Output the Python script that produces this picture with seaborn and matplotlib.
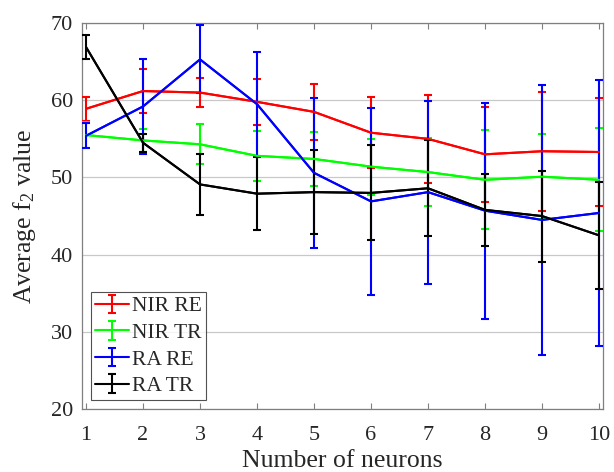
import numpy as np
import pandas as pd
import seaborn as sns
import matplotlib
matplotlib.use("Agg")
import matplotlib.pyplot as plt
from matplotlib.legend_handler import HandlerErrorbar
from matplotlib.container import ErrorbarContainer

neurons = [1, 2, 3, 4, 5, 6, 7, 8, 9, 10]

nir_re = [58.9, 61.2, 61.0, 59.8, 58.5, 55.8, 55.0, 53.0, 53.4, 53.3]
nir_re_err = [1.55, 2.8, 1.9, 3.0, 3.6, 4.6, 5.75, 6.15, 7.7, 6.95]

nir_tr = [55.5, 54.8, 54.3, 52.8, 52.4, 51.4, 50.7, 49.7, 50.1, 49.7]
nir_tr_err = [1.65, 1.45, 2.6, 3.2, 3.5, 3.65, 4.4, 6.4, 5.5, 6.7]

ra_re = [55.4, 59.2, 65.3, 59.5, 50.6, 46.9, 48.1, 45.7, 44.5, 45.4]
ra_re_err = [1.6, 6.15, 4.4, 6.7, 9.7, 12.1, 11.85, 14.0, 17.5, 17.2]

ra_tr = [66.9, 54.5, 49.1, 47.9, 48.1, 48.0, 48.6, 45.8, 45.0, 42.5]
ra_tr_err = [1.55, 1.15, 3.95, 4.7, 5.45, 6.15, 6.2, 4.65, 5.9, 6.95]

series = ["NIR RE", "NIR TR", "RA RE", "RA TR"]
colors = ["#ff0000", "#00ff00", "#0000ff", "#000000"]

df = pd.concat([
    pd.DataFrame({"neurons": neurons, "value": m, "err": e, "series": s})
    for s, m, e in zip(series, [nir_re, nir_tr, ra_re, ra_tr],
                       [nir_re_err, nir_tr_err, ra_re_err, ra_tr_err])
], ignore_index=True)

sns.set_style("ticks")
plt.rcParams["font.family"] = ["Liberation Serif", "DejaVu Serif"]
plt.rcParams["mathtext.default"] = "regular"

fig = plt.figure(figsize=(6.14, 4.72), dpi=100)
ax = fig.add_axes([0.1336, 0.1335, 0.8485, 0.8175])

lw = 1.5
palette = dict(zip(series, colors))
sns.lineplot(data=df, x="neurons", y="value", hue="series", palette=palette,
             linewidth=lw, legend=False, ax=ax, zorder=3)
for s in series:
    d = df[df["series"] == s]
    ax.errorbar(d["neurons"], d["value"], yerr=d["err"], color=palette[s],
                linewidth=lw, elinewidth=lw, capsize=3, capthick=lw,
                label=s, zorder=3)

ax.set_xlim(0.93, 10.07)
ax.set_ylim(20, 70)
ax.set_xticks(neurons)
ax.set_yticks([20, 30, 40, 50, 60, 70])
ax.yaxis.grid(True, color="#c8c8c8", linewidth=0.9)
ax.set_axisbelow(True)
for sp in ax.spines.values():
    sp.set_color("#7f7f7f")
    sp.set_linewidth(0.9)
ax.tick_params(direction="in", top=True, right=False, color="#7f7f7f",
               labelsize=16, labelcolor="#262626", length=4)
ax.tick_params(axis="x", pad=12)
ax.tick_params(axis="y", length=0, pad=6.5)
ax.set_xlabel("Number of neurons", fontsize=18.5, color="#262626", labelpad=4)
ax.set_ylabel("Average f$_2$ value", fontsize=18.5, color="#262626", labelpad=9)

leg = ax.legend(loc="lower left", fontsize=15.5, frameon=True, fancybox=False,
                borderaxespad=0.4, handlelength=1.6, handletextpad=0.1,
                labelspacing=0.3, borderpad=0.2,
                handler_map={ErrorbarContainer: HandlerErrorbar(yerr_size=0.42)})
leg.get_frame().set_edgecolor("#262626")
leg.get_frame().set_linewidth(0.8)

fig.savefig("out.png", dpi=100)
